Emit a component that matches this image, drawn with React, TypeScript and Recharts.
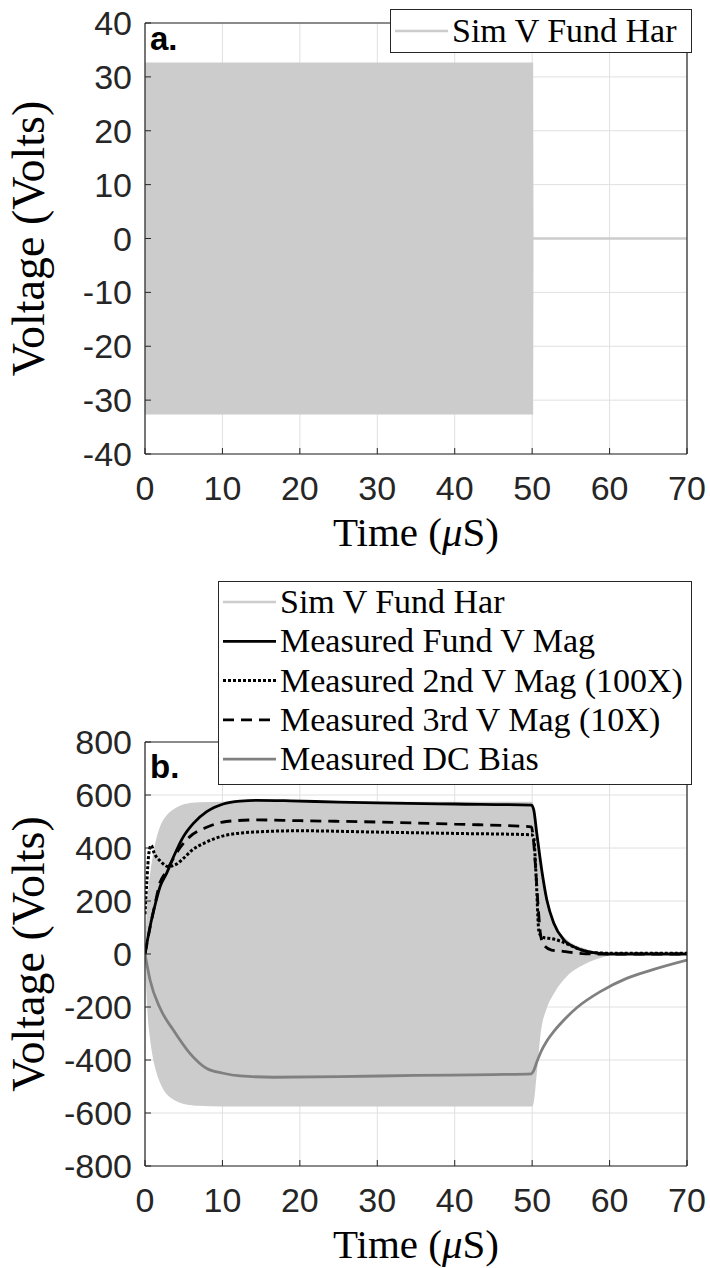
import React from "react";
import {
  ComposedChart,
  Area,
  Line,
  XAxis,
  YAxis,
  CartesianGrid,
  Legend,
  Label,
} from "recharts";

// axes
const TIME_TICKS = [0, 10, 20, 30, 40, 50, 60, 70];
const VOLT_TICKS_A = [-40, -30, -20, -10, 0, 10, 20, 30, 40];
const VOLT_TICKS_B = [-800, -600, -400, -200, 0, 200, 400, 600, 800];

// (a) simulated fundamental - envelope of the dense sine burst
const simATime = [0, 50, 50.05, 70];
const simAUpper = [32.5, 32.5, 0, 0];
const simALower = [-32.5, -32.5, 0, 0];

// (b) simulated fundamental envelope
const simBTime = [0, 0.3, 0.65, 1, 1.5, 2, 2.5, 3, 4, 5, 7, 10, 20, 30, 40, 50, 50.2, 50.6, 51.1, 51.9, 52.8, 54.5, 56.7, 58.8, 60.5, 62, 70];
const simBUpper = [0, 200, 300, 370, 440, 485, 512, 530, 552, 565, 573, 575, 575, 575, 575, 575, 560, 440, 330, 200, 120, 55, 22, 6, 1, 0, 0];
const simBLower = [0, -210, -320, -388, -450, -490, -518, -535, -555, -566, -573, -575, -575, -575, -575, -575, -560, -450, -300, -204, -150, -84, -40, -15, -3, 0, 0];

// (b) measured fundamental magnitude
const fundTime = [0, 0.65, 1.3, 1.94, 2.8, 3.66, 4.96, 6.25, 7.97, 10.1, 12.3, 14.4, 18.8, 25, 30, 40, 49.9, 50.2, 50.6, 51.3, 51.9, 52.8, 54.1, 55.8, 58, 60, 70];
const fundMag = [0, 103, 185, 254, 305, 365, 443, 493, 537, 566, 577, 580, 578, 573, 570, 566, 562, 545, 455, 305, 204, 116, 53, 22, 5, 0, 0];

// (b) measured 2nd harmonic (x100)
const secondTime = [0, 0.25, 0.5, 0.8, 1.2, 2, 3, 4, 5, 6, 8, 10, 14, 20, 30, 40, 49.9, 50.2, 50.5, 50.9, 51.5, 52.5, 53.5, 54.5, 55.5, 56.5, 58, 60, 70];
const secondMag = [150, 280, 380, 410, 380, 350, 330, 338, 362, 390, 423, 445, 460, 465, 460, 455, 450, 440, 300, 80, 62, 58, 50, 38, 25, 14, 5, 3, 3];

// (b) measured 3rd harmonic (x10)
const thirdTime = [0, 0.65, 1.3, 1.94, 2.6, 3.66, 4.5, 5.8, 7.97, 10.5, 14.4, 20, 30, 40, 49.9, 50.2, 50.5, 50.8, 51.1, 51.5, 52.5, 54, 56, 58, 70];
const thirdMag = [0, 100, 190, 270, 305, 360, 400, 443, 478, 500, 506, 503, 498, 490, 480, 420, 300, 170, 70, 35, 15, 10, 3, 0, 0];

// (b) measured DC bias
const dcTime = [0, 0.65, 1.94, 3.66, 5.8, 7.97, 10.1, 12.3, 16.6, 25, 35, 45, 49.9, 50.2, 50.6, 51.2, 51.9, 52.8, 53.6, 55.8, 58.8, 62.2, 65.7, 70];
const dcBias = [0, -98, -204, -287, -375, -432, -450, -460, -465, -463, -458, -455, -452, -440, -408, -365, -328, -292, -265, -202, -142, -92, -58, -23];

const LEGEND_A = ["Sim V Fund Har"];
const LEGEND_B = [
  "Sim V Fund Har",
  "Measured Fund V Mag",
  "Measured 2nd V Mag (100X)",
  "Measured 3rd V Mag (10X)",
  "Measured DC Bias",
];

const SIM_GRAY = "#cccccc";
const DC_GRAY = "#808080";
const AXIS = "#262626";
const GRID = "#e0e0e0";
const SANS = "'Liberation Sans', Arial, sans-serif";
const SERIF = "'Liberation Serif', 'Times New Roman', serif";

const LINE_STYLES = [
  { stroke: SIM_GRAY, dash: undefined, w: 2.5 },
  { stroke: "#000", dash: undefined, w: 2.8 },
  { stroke: "#000", dash: "3 2", w: 3 },
  { stroke: "#000", dash: "11 7", w: 2.8 },
  { stroke: DC_GRAY, dash: undefined, w: 2.8 },
];

const pts = (t: number[], v: number[]) => t.map((x, i) => ({ t: x, v: v[i] }));
const band = (t: number[], lo: number[], hi: number[]) =>
  t.map((x, i) => ({ t: x, range: [lo[i], hi[i]] }));

const XTick = (props: any) => {
  const { x, y, payload } = props;
  return (
    <text x={x} y={y} dy={46} textAnchor="middle" fill={AXIS} fontFamily={SANS} fontSize={34}>
      {payload.value}
    </text>
  );
};

const YTick = (props: any) => {
  const { x, y, payload } = props;
  return (
    <text x={x} y={y} dy={12} textAnchor="end" fill={AXIS} fontFamily={SANS} fontSize={34}>
      {payload.value}
    </text>
  );
};

const xTitle = (baseline: number) => (props: any) => {
  const vb = props.viewBox;
  const cx = vb.x + vb.width / 2;
  return (
    <text x={cx} y={baseline} textAnchor="middle" fill="#000" fontFamily={SERIF} fontSize={41}>
      Time (<tspan fontStyle="italic">μ</tspan>S)
    </text>
  );
};

const yTitle = (props: any) => {
  const vb = props.viewBox;
  const cx = 29;
  const cy = vb.y + vb.height / 2;
  return (
    <text
      x={cx}
      y={cy}
      dy={15}
      transform={`rotate(-90, ${cx}, ${cy})`}
      textAnchor="middle"
      fill="#000"
      fontFamily={SERIF}
      fontSize={46}
    >
      Voltage (Volts)
    </text>
  );
};

const panelTag = (tag: string, dy: number) => (props: any) => {
  const vb = props.viewBox;
  return (
    <text x={vb.x + vb.width + 5} y={vb.y + dy} fill="#000" fontFamily={SANS} fontWeight="bold" fontSize={33}>
      {tag}
    </text>
  );
};

function LegendBox({ items, width, height, rowTop, rowStep }: { items: string[]; width: number; height: number; rowTop: number; rowStep: number }) {
  return (
    <svg width={width} height={height} style={{ display: "block" }}>
      <rect x={0.5} y={0.5} width={width - 1} height={height - 1} fill="#fff" stroke={AXIS} strokeWidth={1} />
      {items.map((name, i) => {
        const s = LINE_STYLES[i];
        const cy = rowTop + i * rowStep;
        return (
          <g key={name}>
            <line x1={5} x2={58} y1={cy} y2={cy} stroke={s.stroke} strokeWidth={s.w} strokeDasharray={s.dash} />
            <text x={62} y={cy + 11} fill="#000" fontFamily={SERIF} fontSize={34}>
              {name}
            </text>
          </g>
        );
      })}
    </svg>
  );
}

export default function App() {
  const simA = band(simATime, simALower, simAUpper);
  const simB = band(simBTime, simBLower, simBUpper);

  const axesFor = (vTicks: number[], vDomain: [number, number], xHeight: number, titleBaseline: number, tag: string, tagDy: number) => [
    <XAxis
      key="xb"
      xAxisId="x"
      dataKey="t"
      type="number"
      domain={[0, 70]}
      ticks={TIME_TICKS}
      interval={0}
      allowDataOverflow
      height={xHeight}
      tickSize={-6}
      tickMargin={6}
      tick={<XTick />}
      axisLine={{ stroke: AXIS, strokeWidth: 1.2 }}
      tickLine={{ stroke: AXIS }}
    >
      <Label content={xTitle(titleBaseline)} />
    </XAxis>,
    <XAxis
      key="xt"
      xAxisId="top"
      orientation="top"
      mirror
      type="number"
      domain={[0, 70]}
      ticks={TIME_TICKS}
      interval={0}
      tick={false}
      tickSize={6}
      axisLine={{ stroke: AXIS, strokeWidth: 1.2 }}
      tickLine={{ stroke: AXIS }}
    />,
    <YAxis
      key="yl"
      yAxisId="y"
      type="number"
      domain={vDomain}
      ticks={vTicks}
      interval={0}
      allowDataOverflow
      width={145}
      tickSize={-6}
      tickMargin={19}
      tick={<YTick />}
      axisLine={{ stroke: AXIS, strokeWidth: 1.2 }}
      tickLine={{ stroke: AXIS }}
    >
      <Label content={yTitle} />
      <Label content={panelTag(tag, tagDy)} />
    </YAxis>,
    <YAxis
      key="yr"
      yAxisId="right"
      orientation="right"
      mirror
      type="number"
      domain={vDomain}
      ticks={vTicks}
      interval={0}
      tick={false}
      tickSize={6}
      axisLine={{ stroke: AXIS, strokeWidth: 1.2 }}
      tickLine={{ stroke: AXIS }}
    />,
  ];

  return (
    <div style={{ position: "absolute", left: 0, top: 0, width: 710, height: 1268, background: "#fff" }}>
      <div style={{ position: "absolute", left: 0, top: 0 }}>
        <ComposedChart width={710} height={560} margin={{ top: 23, right: 23, bottom: 0, left: 0 }}>
          <CartesianGrid xAxisId="x" yAxisId="y" stroke={GRID} />
          {axesFor(VOLT_TICKS_A, [-40, 40], 106, 546, "a.", 27)}
          <Area
            xAxisId="x"
            yAxisId="y"
            data={simA}
            dataKey="range"
            type="linear"
            fill={SIM_GRAY}
            fillOpacity={1}
            stroke={SIM_GRAY}
            strokeWidth={2}
            isAnimationActive={false}
            dot={false}
            activeDot={false}
          />
          <Legend
            layout="vertical"
            align="center"
            verticalAlign="middle"
            wrapperStyle={{ left: 390, top: 9, width: 302, height: 44 }}
            content={() => <LegendBox items={LEGEND_A} width={302} height={44} rowTop={22} rowStep={0} />}
          />
        </ComposedChart>
      </div>
      <div style={{ position: "absolute", left: 0, top: 560 }}>
        <ComposedChart width={710} height={708} margin={{ top: 182, right: 23, bottom: 0, left: 0 }}>
          <CartesianGrid xAxisId="x" yAxisId="y" stroke={GRID} />
          {axesFor(VOLT_TICKS_B, [-800, 800], 102, 698, "b.", 36)}
          <Area
            xAxisId="x"
            yAxisId="y"
            data={simB}
            dataKey="range"
            type="monotoneX"
            fill={SIM_GRAY}
            fillOpacity={1}
            stroke="none"
            isAnimationActive={false}
            dot={false}
            activeDot={false}
          />
          <Line xAxisId="x" yAxisId="y" data={pts(dcTime, dcBias)} dataKey="v" type="monotoneX" stroke={DC_GRAY} strokeWidth={2.8} dot={false} isAnimationActive={false} />
          <Line xAxisId="x" yAxisId="y" data={pts(secondTime, secondMag)} dataKey="v" type="monotoneX" stroke="#000" strokeWidth={3} strokeDasharray="3 2" dot={false} isAnimationActive={false} />
          <Line xAxisId="x" yAxisId="y" data={pts(thirdTime, thirdMag)} dataKey="v" type="monotoneX" stroke="#000" strokeWidth={2.8} strokeDasharray="11 7" dot={false} isAnimationActive={false} />
          <Line xAxisId="x" yAxisId="y" data={pts(fundTime, fundMag)} dataKey="v" type="monotoneX" stroke="#000" strokeWidth={2.8} dot={false} isAnimationActive={false} />
          <Legend
            layout="vertical"
            align="center"
            verticalAlign="middle"
            wrapperStyle={{ left: 218, top: 21, width: 474, height: 204 }}
            content={() => <LegendBox items={LEGEND_B} width={474} height={204} rowTop={21} rowStep={39.3} />}
          />
        </ComposedChart>
      </div>
    </div>
  );
}
